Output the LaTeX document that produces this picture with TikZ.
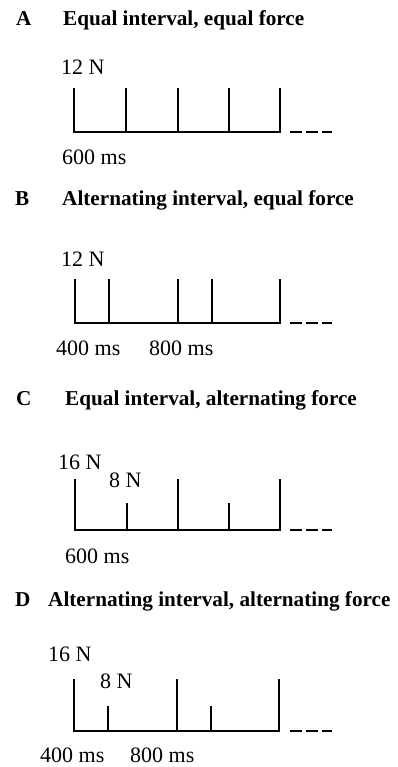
\documentclass[tikz,border=0pt]{standalone}
\usepackage{fontspec}
\setmainfont{Liberation Serif}
\begin{document}
\begin{tikzpicture}[x=1pt,y=-1pt,
  ttl/.style={anchor=base west,inner sep=0pt,font=\fontsize{21.2}{24}\selectfont\bfseries},
  lbl/.style={anchor=base west,inner sep=0pt,font=\fontsize{22}{25}\selectfont},
  axis/.style={line width=2.7pt},
  more/.style={line width=2.7pt,dash pattern=on 12pt off 4pt}]
\useasboundingbox (0,0) rectangle (397,767);
% Panel A
\node[ttl] (la) at (16,26) {A};
\node[ttl] (ta) at (63,26) {Equal interval, equal force};
\node[lbl] (fa) at (61,75) {12 N};
\node[lbl] (ia) at (62,165) {600 ms};
\draw[axis] (74,88) -- (74,132) -- (280,132) -- (280,88);
\foreach \x in {126,178,229} \draw[axis] (\x,88) -- (\x,132);
\draw[more] (290,132) -- (332,132);
% Panel B
\node[ttl] (lb) at (15,205) {B};
\node[ttl] (tb) at (62,205) {Alternating interval, equal force};
\node[lbl] (fb) at (61,266) {12 N};
\node[lbl] (ib1) at (56,355) {400 ms};
\node[lbl] (ib2) at (149,355) {800 ms};
\draw[axis] (75,279) -- (75,323) -- (280,323) -- (280,279);
\foreach \x in {109,178,212} \draw[axis] (\x,279) -- (\x,323);
\draw[more] (290,323) -- (332,323);
% Panel C
\node[ttl] (lc) at (16,405) {C};
\node[ttl] (tc) at (65,405) {Equal interval, alternating force};
\node[lbl] (fc1) at (58,469) {16 N};
\node[lbl] (fc2) at (109,487) {8 N};
\node[lbl] (ic) at (65,563) {600 ms};
\draw[axis] (75,479) -- (75,530) -- (280,530) -- (280,479);
\draw[axis] (178,479) -- (178,530);
\foreach \x in {127,229} \draw[axis] (\x,503) -- (\x,530);
\draw[more] (290,530) -- (332,530);
% Panel D
\node[ttl] (ld) at (15,606) {D};
\node[ttl] (td) at (48,606) {Alternating interval, alternating force};
\node[lbl] (fd1) at (48,661) {16 N};
\node[lbl] (fd2) at (100,688) {8 N};
\node[lbl] (id1) at (40,762) {400 ms};
\node[lbl] (id2) at (130,762) {800 ms};
\draw[axis] (74,679) -- (74,731) -- (279,731) -- (279,679);
\draw[axis] (177,679) -- (177,731);
\foreach \x in {108,211} \draw[axis] (\x,706) -- (\x,731);
\draw[more] (290,731) -- (332,731);
\end{tikzpicture}
\end{document}
